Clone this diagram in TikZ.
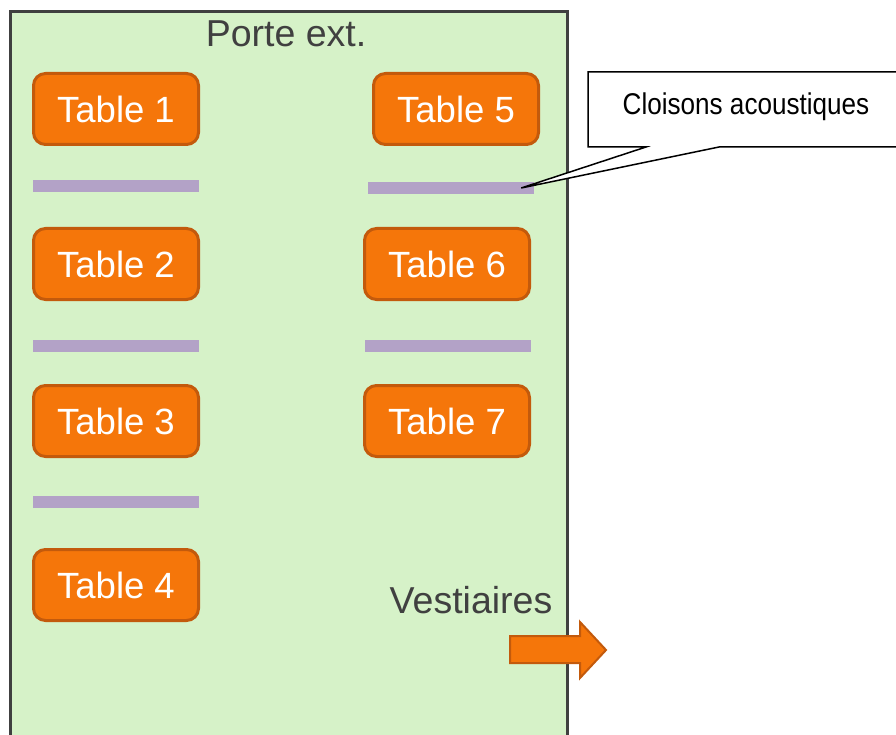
\documentclass[tikz,border=0pt]{standalone}
\usepackage{fontspec}
\setmainfont{Liberation Sans}
\newfontfamily\narrowfont[FakeStretch=0.87]{Liberation Sans}
\definecolor{roomgreen}{HTML}{D6F2C8}
\definecolor{tableorange}{HTML}{F5760A}
\definecolor{tableedge}{HTML}{C35A0C}
\definecolor{wallpurple}{HTML}{B3A2C7}
\definecolor{darkgray}{HTML}{404040}
\tikzset{
  tablebox/.style={draw=tableedge, fill=tableorange, line width=3pt,
    rounded corners=12pt, minimum width=165pt, minimum height=71pt,
    text=white, font=\fontsize{36.5}{42}\selectfont, inner sep=0pt},
  wall/.style={fill=wallpurple, minimum width=166pt, minimum height=12pt, inner sep=0pt},
  roomlabel/.style={text=darkgray, font=\fontsize{37.5}{43}\selectfont, anchor=base, inner sep=0pt}
}
\begin{document}
\begin{tikzpicture}[x=1pt,y=-1pt]
          \useasboundingbox (0,0) rectangle (896,735);
          % room
          \fill[roomgreen] (10,12) rectangle (567,745);
          \draw[darkgray, line width=3pt] (10,745) -- (10,12) -- (567,12) -- (567,745);
          \node[roomlabel] (porte) at (286,47) {Porte ext.};

          % tables
          \node[tablebox] (t1) at (116,109) {Table 1};
          \node[tablebox] (t2) at (116,264) {Table 2};
          \node[tablebox] (t3) at (116,421) {Table 3};
          \node[tablebox] (t4) at (116,585) {Table 4};
          \node[tablebox] (t5) at (456,109) {Table 5};
          \node[tablebox] (t6) at (447,264) {Table 6};
          \node[tablebox] (t7) at (447,421) {Table 7};

          % acoustic walls
          \node[wall] (w1) at (116,186) {};
          \node[wall] (w2) at (116,346) {};
          \node[wall] (w3) at (116,502) {};
          \node[wall] (w5) at (451,188) {};
          \node[wall] (w6) at (448,346) {};

          % callout
          \coordinate (tip) at ([xshift=-13pt]w5.east);
          \draw[fill=white, line width=1.5pt, line join=miter]
            (588,72) -- (900,72) -- (900,147) -- (719,147) -- (tip)
            -- (646,147) -- (588,147) -- cycle;
          \node[anchor=base, inner sep=0pt, font=\narrowfont\fontsize{30}{35}\selectfont] (callout) at (746,115) {Cloisons acoustiques};

          % exit
          \node[roomlabel] (vest) at (471,613) {Vestiaires};
          \draw[draw=tableedge, fill=tableorange, line width=2pt]
            (510,636) -- (580,636) -- (580,622) -- (606,650) -- (580,678)
            -- (580,663) -- (510,663) -- cycle;
      \end{tikzpicture}
\end{document}
